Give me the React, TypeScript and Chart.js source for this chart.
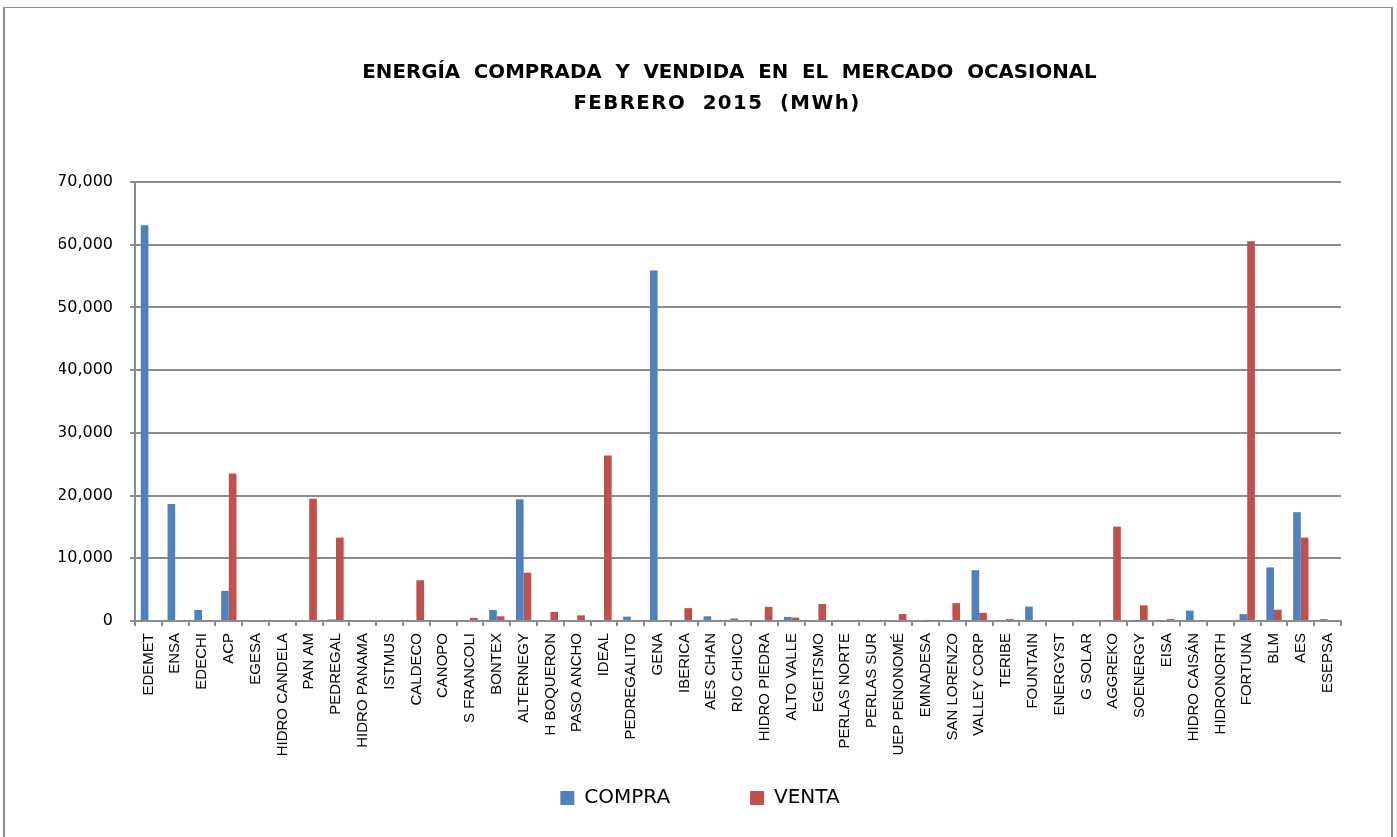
import React, { useEffect, useRef } from "react";
import { Chart, registerables } from "chart.js";

Chart.register(...registerables);

const TITLE_LINE_1 = "ENERGÍA  COMPRADA  Y  VENDIDA  EN  EL  MERCADO  OCASIONAL";
const TITLE_LINE_2 = "FEBRERO  2015  (MWh)";

const categories = [
  "EDEMET", "ENSA", "EDECHI", "ACP", "EGESA", "HIDRO CANDELA", "PAN AM", "PEDREGAL",
  "HIDRO PANAMA", "ISTMUS", "CALDECO", "CANOPO", "S FRANCOLI", "BONTEX", "ALTERNEGY",
  "H BOQUERON", "PASO ANCHO", "IDEAL", "PEDREGALITO", "GENA", "IBERICA", "AES CHAN",
  "RIO CHICO", "HIDRO PIEDRA", "ALTO VALLE", "EGEITSMO", "PERLAS NORTE", "PERLAS SUR",
  "UEP PENONOMÉ", "EMNADESA", "SAN LORENZO", "VALLEY CORP", "TERIBE", "FOUNTAIN",
  "ENERGYST", "G SOLAR", "AGGREKO", "SOENERGY", "EISA", "HIDRO CAISÁN", "HIDRONORTH",
  "FORTUNA", "BLM", "AES", "ESEPSA",
];

const compra = [
  63100, 18650, 1750, 4800, 0, 0, 0, 250,
  0, 0, 0, 0, 0, 1750, 19400,
  0, 0, 0, 700, 55900, 0, 750,
  400, 0, 650, 0, 0, 0,
  0, 0, 0, 8100, 0, 2300,
  0, 0, 50, 30, 0, 1650, 0,
  1100, 8550, 17350, 300,
];

const venta = [
  0, 0, 0, 23500, 0, 0, 19500, 13300,
  0, 0, 6500, 0, 500, 750, 7700,
  1450, 900, 26400, 150, 0, 2050, 0,
  150, 2250, 550, 2700, 0, 0,
  1100, 50, 2850, 1300, 300, 0,
  0, 0, 15050, 2500, 300, 0, 0,
  60550, 1800, 13300, 0,
];

const seriesNames = ["COMPRA", "VENTA"];
const yTicks = [0, 10000, 20000, 30000, 40000, 50000, 60000, 70000];

const GRID = "#8c8c8c";

export default function App() {
  const ref = useRef<HTMLCanvasElement>(null);

  useEffect(() => {
    const chart = new Chart(ref.current as HTMLCanvasElement, {
      type: "bar",
      data: {
        labels: categories,
        datasets: [
          {
            label: seriesNames[0],
            data: compra,
            backgroundColor: "#4F81BD",
            borderWidth: 0,
            categoryPercentage: 0.5714,
            barPercentage: 1,
          },
          {
            label: seriesNames[1],
            data: venta,
            backgroundColor: "#C0504D",
            borderWidth: 0,
            categoryPercentage: 0.5714,
            barPercentage: 1,
          },
        ],
      },
      options: {
        responsive: false,
        animation: false,
        layout: { padding: { left: 59, right: 56, top: 182, bottom: 19 } },
        plugins: {
          title: { display: false },
          tooltip: { enabled: false },
          legend: {
            position: "bottom",
            labels: {
              boxWidth: 14,
              boxHeight: 14,
              padding: 10,
              color: "#000",
              font: { family: "DejaVu Sans", size: 20 },
              generateLabels: (c: any) => {
                const items = Chart.defaults.plugins.legend.labels.generateLabels(c);
                items.forEach((it: any, i: number) => {
                  if (i === 0) it.text = it.text + "\u00A0".repeat(11);
                });
                return items;
              },
            },
          },
        },
        scales: {
          x: {
            grid: {
              offset: true,
              drawOnChartArea: false,
              drawTicks: true,
              tickLength: 5,
              color: GRID,
              lineWidth: 2,
            },
            border: { color: GRID, width: 2 },
            ticks: {
              autoSkip: false,
              minRotation: 90,
              maxRotation: 90,
              padding: 7,
              color: "#000",
              font: { family: "Liberation Sans", size: 15 },
            },
            afterFit: (s: any) => {
              s.height = 157;
            },
          },
          y: {
            min: 0,
            max: 70000,
            afterBuildTicks: (s: any) => {
              s.ticks = yTicks.map((v) => ({ value: v }));
            },
            ticks: {
              callback: (v: any) => Number(v).toLocaleString("en-US"),
              padding: 17,
              color: "#000",
              font: { family: "DejaVu Sans", size: 16 },
            },
            grid: { color: GRID, lineWidth: 2, tickLength: 5 },
            border: { color: GRID, width: 2 },
            afterFit: (s: any) => {
              s.width = 76;
            },
          },
        },
      },
    });
    return () => chart.destroy();
  }, []);

  const titleStyle: React.CSSProperties = {
    position: "absolute",
    width: 900,
    textAlign: "center",
    whiteSpace: "pre",
    fontFamily: "DejaVu Sans",
    fontWeight: "bold",
    fontSize: 19.8,
    lineHeight: "24px",
    color: "#000",
  };

  return (
    <div
      style={{
        position: "fixed",
        left: 0,
        top: 0,
        width: 1397,
        height: 837,
        overflow: "hidden",
        background: "#fff",
      }}
    >
      <div
        style={{
          position: "absolute",
          left: 3,
          top: 7,
          width: 1390,
          height: 900,
          boxSizing: "border-box",
          borderLeft: "2px solid #8c8c8c",
          borderTop: "1px solid #8c8c8c",
          borderRight: "2px solid #8c8c8c",
        }}
      />
      <canvas
        ref={ref}
        width={1397}
        height={837}
        style={{ position: "absolute", left: 0, top: 0, display: "block" }}
      />
      <div style={{ ...titleStyle, left: 729.5 - 450, top: 60 }}>{TITLE_LINE_1}</div>
      <div style={{ ...titleStyle, left: 717 - 450, top: 91, letterSpacing: "1.4px" }}>{TITLE_LINE_2}</div>
    </div>
  );
}
